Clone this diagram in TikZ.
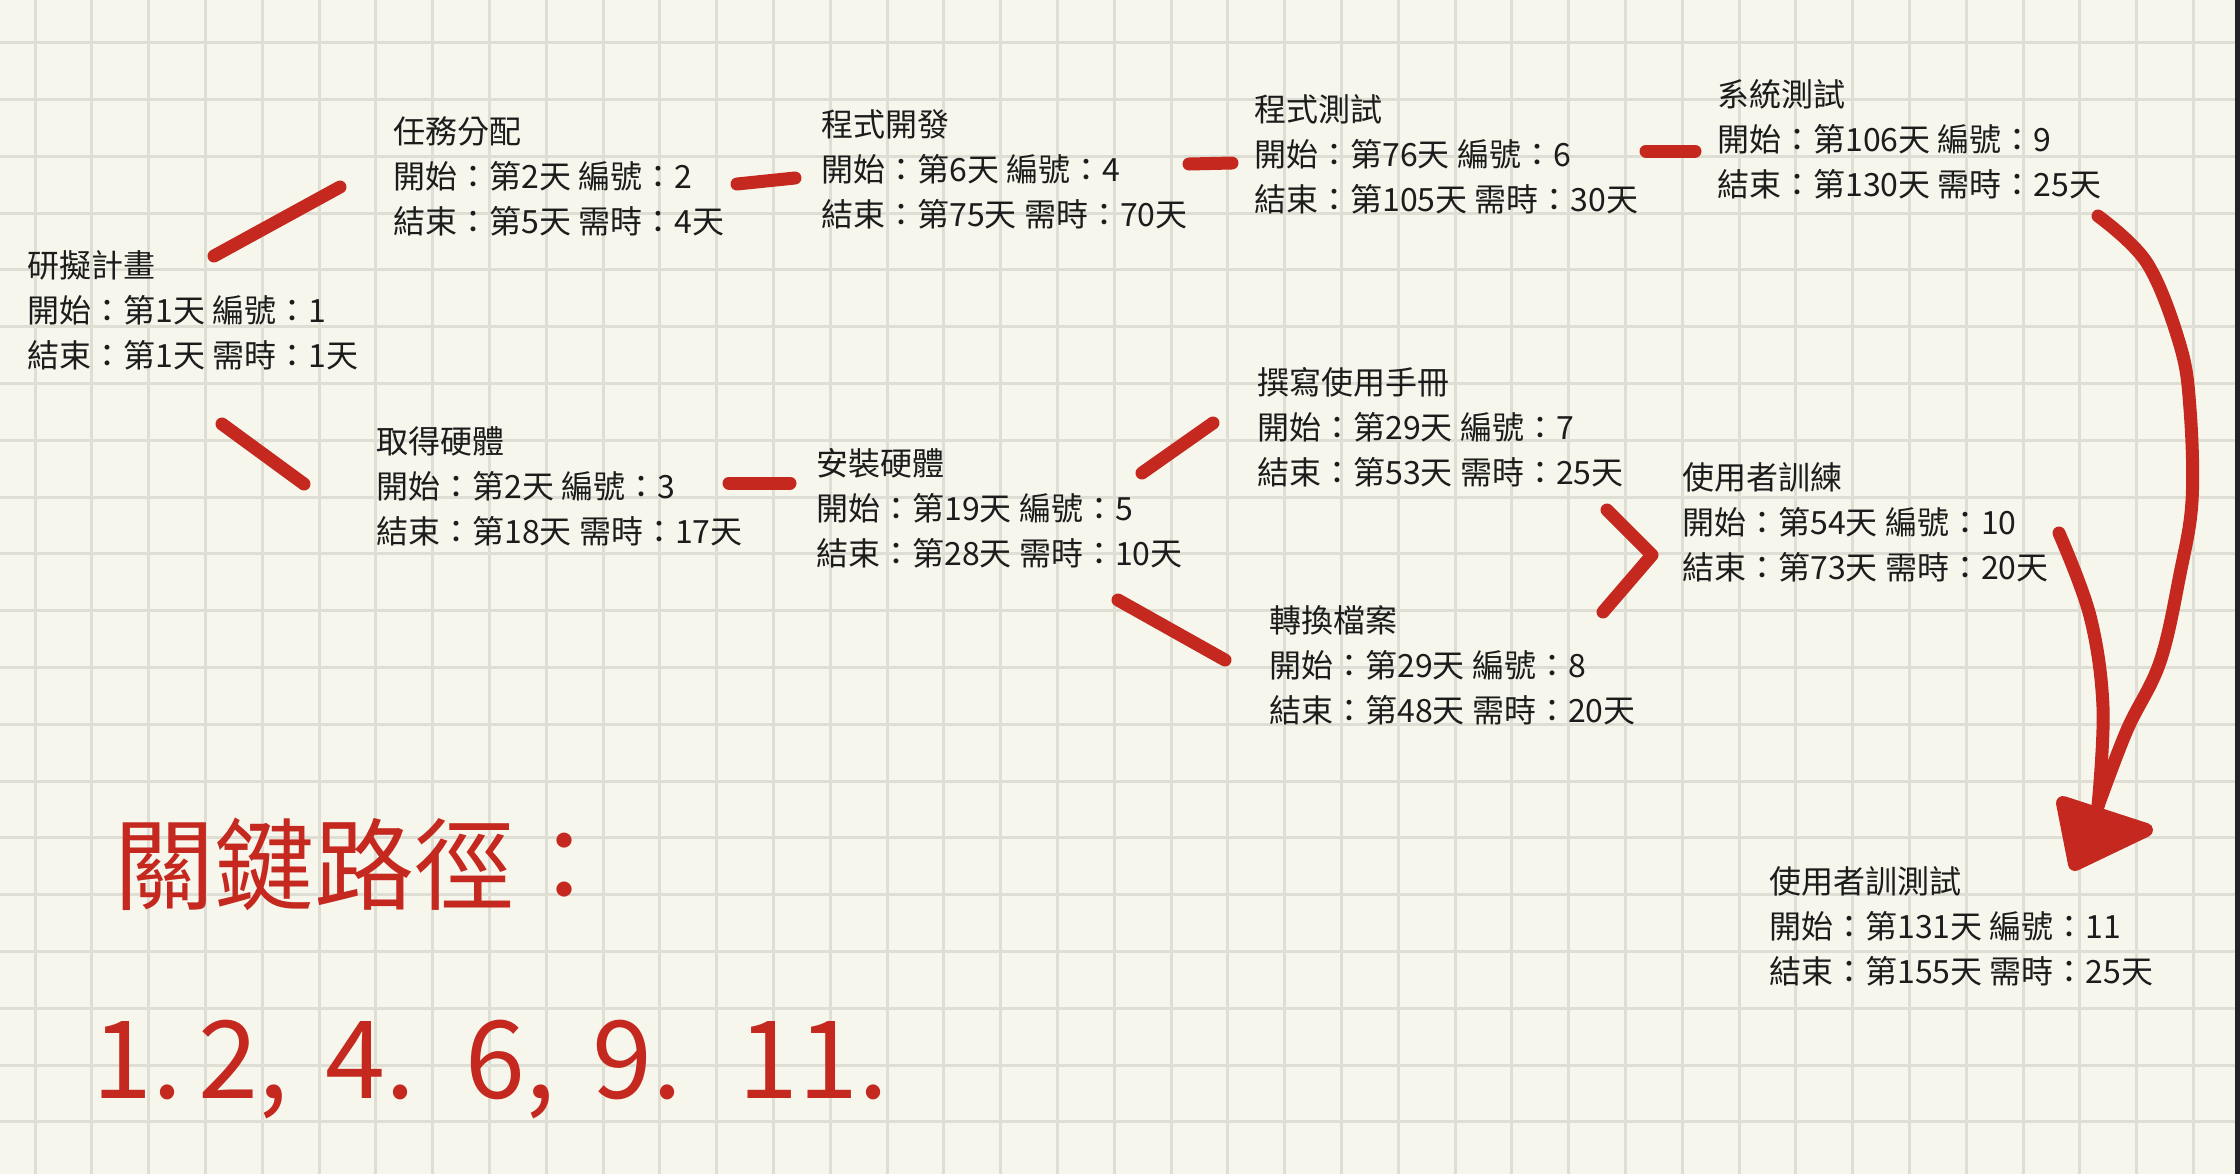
\documentclass[tikz,border=0pt]{standalone}
\usepackage{fontspec}
\setmainfont{Noto Sans CJK TC}
\newfontfamily\handfont{Noto Sans CJK TC}
\definecolor{paper}{RGB}{246,246,236}
\definecolor{gridc}{RGB}{222,222,213}
\definecolor{ink}{RGB}{28,28,28}
\definecolor{hred}{RGB}{196,40,30}
\definecolor{edgec}{RGB}{35,35,39}
\begin{document}
\begin{tikzpicture}[x=0.5pt,y=-0.5pt,
  gridline/.style={draw=gridc, line width=1.5pt},
  blk/.style={anchor=base west, align=left, inner sep=0pt, text=ink,
    font=\fontsize{16pt}{22.5pt}\selectfont},
  link/.style={draw=hred, line width=6.5pt, line cap=round, line join=round},
  handtitle/.style={anchor=base west, inner sep=0pt, text=hred,
    font=\handfont\fontsize{50pt}{60pt}\selectfont},
  handnums/.style={anchor=base west, inner sep=0pt, text=hred,
    font=\handfont\fontsize{54pt}{60pt}\selectfont}]
\useasboundingbox (0,0) rectangle (2240,1174);
\fill[paper] (0,0) rectangle (2240,1174);
\foreach \i in {0,...,38} \draw[gridline] ({35+56.8*\i},0) -- ({35+56.8*\i},1174);
\foreach \j in {0,...,19} \draw[gridline] (0,{42.7+56.8*\j}) -- (2240,{42.7+56.8*\j});
\fill[edgec] (2235,0) rectangle (2240,1174);

% task blocks (anchor = baseline of last line)
\node[blk] (t1) at (27,367) {研擬計畫\\開始：第1天 編號：1\\結束：第1天 需時：1天};
\node[blk] (t2) at (393,233) {任務分配\\開始：第2天 編號：2\\結束：第5天 需時：4天};
\node[blk] (t4) at (821,226) {程式開發\\開始：第6天 編號：4\\結束：第75天 需時：70天};
\node[blk] (t6) at (1254,211) {程式測試\\開始：第76天 編號：6\\結束：第105天 需時：30天};
\node[blk] (t9) at (1717,196) {系統測試\\開始：第106天 編號：9\\結束：第130天 需時：25天};
\node[blk] (t3) at (376,543) {取得硬體\\開始：第2天 編號：3\\結束：第18天 需時：17天};
\node[blk] (t5) at (816,565) {安裝硬體\\開始：第19天 編號：5\\結束：第28天 需時：10天};
\node[blk] (t7) at (1257,484) {撰寫使用手冊\\開始：第29天 編號：7\\結束：第53天 需時：25天};
\node[blk] (t8) at (1269,722) {轉換檔案\\開始：第29天 編號：8\\結束：第48天 需時：20天};
\node[blk] (t10) at (1682,579) {使用者訓練\\開始：第54天 編號：10\\結束：第73天 需時：20天};
\node[blk] (t11) at (1769,983) {使用者訓測試\\開始：第131天 編號：11\\結束：第155天 需時：25天};

% connector end points
\coordinate (a12) at (214,256); \coordinate (b12) at (340,187);
\coordinate (a13) at (222,424); \coordinate (b13) at (304,484);
\coordinate (a24) at (737,184); \coordinate (b24) at (795,178);
\coordinate (a46) at (1189,164); \coordinate (b46) at (1232,163);
\coordinate (a69) at (1646,151); \coordinate (b69) at (1695,151);
\coordinate (a35) at (729,483); \coordinate (b35) at (790,483);
\coordinate (a57) at (1142,473); \coordinate (b57) at (1213,423);
\coordinate (a58) at (1118,600); \coordinate (b58) at (1225,660);
\coordinate (a7x) at (1607,510); \coordinate (vx) at (1652,555); \coordinate (a8x) at (1603,612);
\coordinate (s9) at (2098,216); \coordinate (s10) at (2059,533);
\coordinate (tip) at (2098,806);

\draw[link] (a12) -- (b12);
\draw[link] (a13) -- (b13);
\draw[link] (a24) -- (b24);
\draw[link] (a46) -- (b46);
\draw[link] (a69) -- (b69);
\draw[link] (a35) -- (b35);
\draw[link] (a57) -- (b57);
\draw[link] (a58) -- (b58);
\draw[link] (a7x) -- (vx) -- (a8x);

\draw[link] plot[smooth, tension=0.6] coordinates {(s9) (2147,263) (2180,345) (2190,409) (2192,501) (2180,574) (2160,662) (2127,730) (tip)};
\draw[link] plot[smooth, tension=0.6] coordinates {(s10) (2090,616) (2103,707) (tip)};
\fill[hred, draw=hred, line width=7pt, line join=round] (2063,803) -- (2146,830) -- (2075,864) -- cycle;

% handwritten notes
\node[handtitle] (cp) at (114,902) {關鍵路徑：};
\node[handnums] (cpn) at (92,1098) {\makebox[53pt][l]{1.}\makebox[63.5pt][l]{2,}\makebox[70pt][l]{4.}\makebox[63.5pt][l]{6,}\makebox[73pt][l]{9.}11.};
\end{tikzpicture}
\end{document}
